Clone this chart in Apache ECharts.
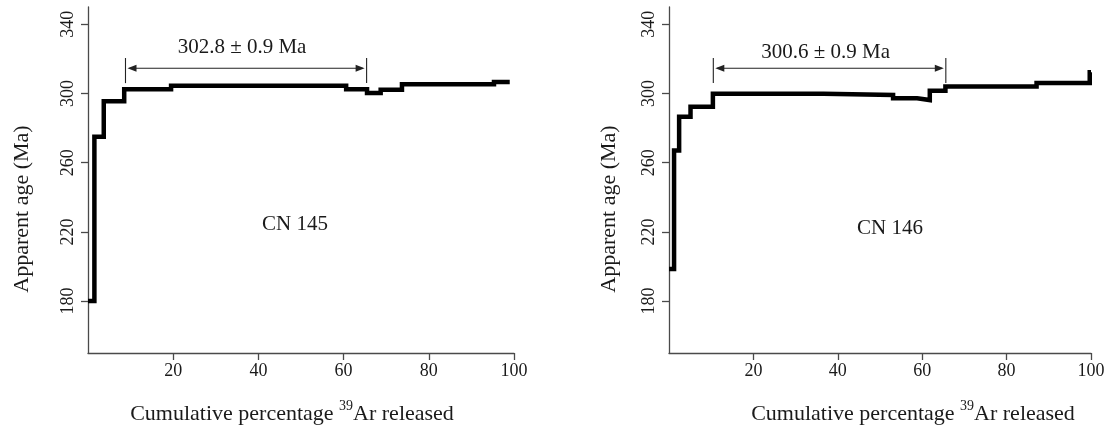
<!DOCTYPE html>
<html>
<head>
<meta charset="utf-8">
<script src="https://cdn.jsdelivr.net/npm/echarts@6/dist/echarts.min.js"></script>
<style>
  html, body { margin: 0; padding: 0; background: #fff; }
  #chart { width: 1113px; height: 428px; }
</style>
</head>
<body>
<div id="chart"></div>
<script>
// Step-heating 40Ar/39Ar age spectra for two samples.
// Each step: cumulative % 39Ar boundaries (n+1 values) and apparent age (n values).
const sampleNames = ['CN 145', 'CN 146'];

const pct145 = [0, 1.5, 3.7, 8.5, 19.5, 60.6, 65.5, 68.7, 73.7, 95.3, 99.0];
const age145 = [180.0, 275.0, 295.5, 302.4, 304.5, 302.5, 300.3, 302.2, 305.4, 306.7];

const pct146 = [0, 1.2, 2.4, 5.1, 10.4, 36.6, 53.1, 58.8, 61.8, 65.5, 87.1, 99.7, 100];
const age146 = [198.5, 267.0, 286.5, 292.3, 299.8, 299.1, 297.2, 296.2, 301.6, 304.0, 306.1, 312.3];

// Plateau segments (cumulative % start, end) and plateau ages
const plateau145 = [8.8, 65.4];
const plateau146 = [10.5, 65.6];
const plateauText = ['302.8 \u00b1 0.9 Ma', '300.6 \u00b1 0.9 Ma'];

// Axis ticks
const xTicks = [20, 40, 60, 80, 100];
const yTicks = [180, 220, 260, 300, 340];

const FONT = '"Liberation Serif", "DejaVu Serif", serif';
const TEXT = '#1a1a1a';
const AXIS = '#4a4a4a';

// Layout of the two panels
const panels = [
  { left: 88, width: 426, yTitleX: 22, xTitleX: 292, nameX: 295, nameY: 224, labelY: 47 },
  { left: 669, width: 422, yTitleX: 609, xTitleX: 913, nameX: 890, nameY: 228, labelY: 52 }
];
const GRID_TOP = 7, GRID_H = 346;

function stairs(pct, age) {
  const pts = [];
  for (let i = 0; i < age.length; i++) {
    pts.push([pct[i], age[i]]);
    pts.push([pct[i + 1], age[i]]);
  }
  return pts;
}

const spectra = [stairs(pct145, age145), stairs(pct146, age146)];
const plateaus = [plateau145, plateau146];

function xAxisFor(i) {
  return {
    gridIndex: i, type: 'value', min: 0, max: 100,
    axisLine: { show: true, onZero: false, lineStyle: { color: AXIS, width: 1.3 } },
    axisTick: { show: true, length: 7, customValues: xTicks, lineStyle: { color: AXIS, width: 1.3 } },
    axisLabel: { customValues: xTicks, margin: 9, fontFamily: FONT, fontSize: 18, color: TEXT },
    splitLine: { show: false }
  };
}
function yAxisFor(i) {
  return {
    gridIndex: i, type: 'value', min: 150, max: 350,
    axisLine: { show: true, onZero: false, lineStyle: { color: AXIS, width: 1.3 } },
    axisTick: { show: true, length: 7, customValues: yTicks, lineStyle: { color: AXIS, width: 1.3 } },
    axisLabel: { customValues: yTicks, rotate: 90, margin: 11, fontFamily: FONT, fontSize: 18, color: TEXT },
    splitLine: { show: false }
  };
}

// Plateau bracket: two vertical bars, a double-headed arrow and the age text
const BRACKET_TOP = 320.5, BRACKET_BOT = 306, ARROW_AT = 314.6;
function plateauRender(panelIdx) {
  return function (params, api) {
    const xs = api.coord([api.value(0), ARROW_AT])[0];
    const xe = api.coord([api.value(1), ARROW_AT])[0];
    const ya = api.coord([api.value(0), ARROW_AT])[1];
    const yt = api.coord([api.value(0), BRACKET_TOP])[1];
    const yb = api.coord([api.value(0), BRACKET_BOT])[1];
    const gap = 2, head = 9, half = 3.5;
    const ls = { stroke: '#222', lineWidth: 1.1 };
    return {
      type: 'group',
      children: [
        { type: 'line', shape: { x1: xs, y1: yt, x2: xs, y2: yb }, style: ls },
        { type: 'line', shape: { x1: xe, y1: yt, x2: xe, y2: yb }, style: ls },
        { type: 'line', shape: { x1: xs + gap + 2, y1: ya, x2: xe - gap - 2, y2: ya }, style: ls },
        { type: 'polygon', shape: { points: [[xs + gap, ya], [xs + gap + head, ya - half], [xs + gap + head, ya + half]] }, style: { fill: '#222' } },
        { type: 'polygon', shape: { points: [[xe - gap, ya], [xe - gap - head, ya - half], [xe - gap - head, ya + half]] }, style: { fill: '#222' } },
        { type: 'text', x: (xs + xe) / 2 - 4, y: panels[panelIdx].labelY,
          style: { text: plateauText[panelIdx], font: '21px ' + FONT, fill: TEXT, align: 'center', verticalAlign: 'middle' } }
      ]
    };
  };
}

const series = [];
for (let i = 0; i < 2; i++) {
  series.push({
    type: 'line', xAxisIndex: i, yAxisIndex: i,
    data: spectra[i], showSymbol: false, symbol: 'none', silent: true, animation: false,
    lineStyle: { color: '#000', width: 4.5, join: 'miter', cap: 'butt' }
  });
  series.push({
    type: 'custom', xAxisIndex: i, yAxisIndex: i, silent: true, animation: false,
    data: [plateaus[i]], renderItem: plateauRender(i), clip: false
  });
}

const graphics = [];
panels.forEach(function (p, i) {
  graphics.push({
    type: 'text', x: p.yTitleX, y: 209, rotation: Math.PI / 2,
    style: { text: 'Apparent age (Ma)', font: '22px ' + FONT, fill: TEXT, align: 'center', verticalAlign: 'middle' }
  });
  graphics.push({
    type: 'text', x: p.xTitleX, y: 414,
    style: {
      text: 'Cumulative percentage {sup|39}Ar released', font: '22px ' + FONT, fill: TEXT,
      align: 'center', verticalAlign: 'middle',
      rich: { sup: { fontSize: 14, fontFamily: FONT, fill: TEXT, verticalAlign: 'top', lineHeight: 30 } }
    }
  });
  graphics.push({
    type: 'text', x: p.nameX, y: p.nameY,
    style: { text: sampleNames[i], font: '21px ' + FONT, fill: TEXT, align: 'center', verticalAlign: 'middle' }
  });
});

const chart = echarts.init(document.getElementById('chart'), null, { renderer: 'canvas' });
chart.setOption({
  backgroundColor: '#fff',
  animation: false,
  grid: panels.map(function (p) {
    return { left: p.left, top: GRID_TOP, width: p.width, height: GRID_H, containLabel: false, outerBoundsMode: 'none' };
  }),
  xAxis: [xAxisFor(0), xAxisFor(1)],
  yAxis: [yAxisFor(0), yAxisFor(1)],
  series: series,
  graphic: graphics
});
</script>
</body>
</html>
